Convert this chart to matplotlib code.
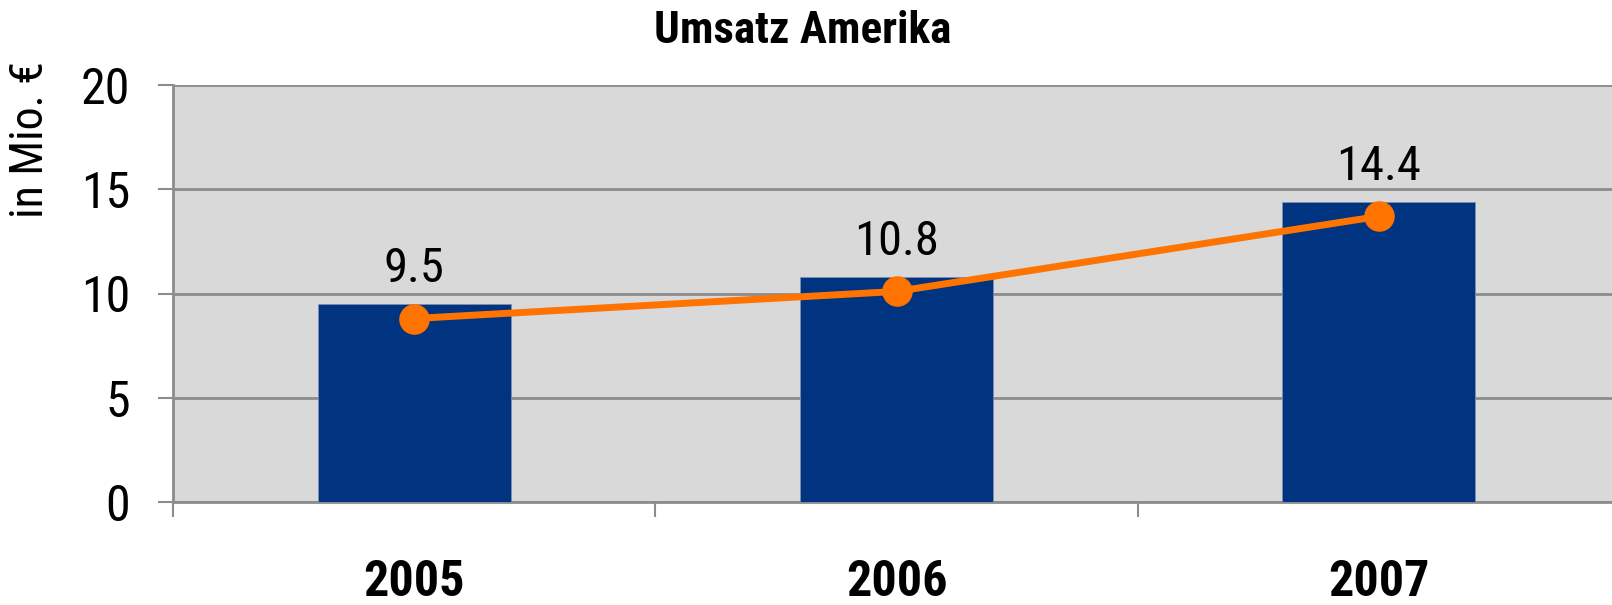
import matplotlib
matplotlib.use("Agg")
import matplotlib.pyplot as plt
import numpy as np

years = ["2005", "2006", "2007"]
umsatz = [9.5, 10.8, 14.4]
trend = [8.8, 10.1, 13.7]
y_ticks = [0, 5, 10, 15, 20]

plt.rcParams['font.family'] = ['Roboto Condensed', 'DejaVu Sans']

W, H = 1612, 605
fig = plt.figure(figsize=(W/100, H/100), dpi=100)
ax = fig.add_axes([173/W, 103/H, (1620-173)/W, 417/H])
ax.set_facecolor('#D9D9D9')

x = np.arange(len(years))
ax.bar(x, umsatz, width=0.4, color='#003380', edgecolor='#7f8fb0', linewidth=0.6, zorder=3)
ax.plot(x, trend, color='#FF7300', linewidth=5, marker='o', markersize=21, zorder=4)

for xi, v in zip(x, umsatz):
    ax.annotate(f"{v:.1f}", (xi, v), xytext=(0, 16), textcoords='offset points',
                ha='center', va='baseline', fontsize=35, color='black')

ax.set_xlim(-0.5, 2.5)
ax.set_ylim(0, 20)
ax.set_yticks(y_ticks)
ax.set_yticklabels([str(t) for t in y_ticks])
ax.yaxis.grid(True, color='#8c8c8c', linewidth=2, zorder=1)
ax.set_axisbelow(True)

ax.set_xticks(x)
ax.set_xticklabels(years, fontsize=36, fontweight='bold')
for lab in ax.get_xticklabels():
    lab.set_verticalalignment('baseline')
ax.set_xticks([-0.5, 0.5, 1.5, 2.5], minor=True)
ax.tick_params(axis='x', which='major', length=0, pad=68)
ax.tick_params(axis='x', which='minor', length=11, width=1.5, color='#8c8c8c', direction='out')
ax.tick_params(axis='y', length=11, width=1.5, color='#8c8c8c', direction='out', labelsize=36, pad=20)

for s in ['top', 'right']:
    ax.spines[s].set_visible(False)
for s in ['left', 'bottom']:
    ax.spines[s].set_color('#8c8c8c')
    ax.spines[s].set_linewidth(2)

fig.text(803/W, 1-43/H, "Umsatz Amerika", ha='center', va='baseline',
         fontsize=32.5, fontweight='bold')
fig.text(30/W, 1-140/H, "in Mio. €", ha='center', va='center', rotation=90,
         fontsize=33)

fig.savefig("out.png", dpi=100)
